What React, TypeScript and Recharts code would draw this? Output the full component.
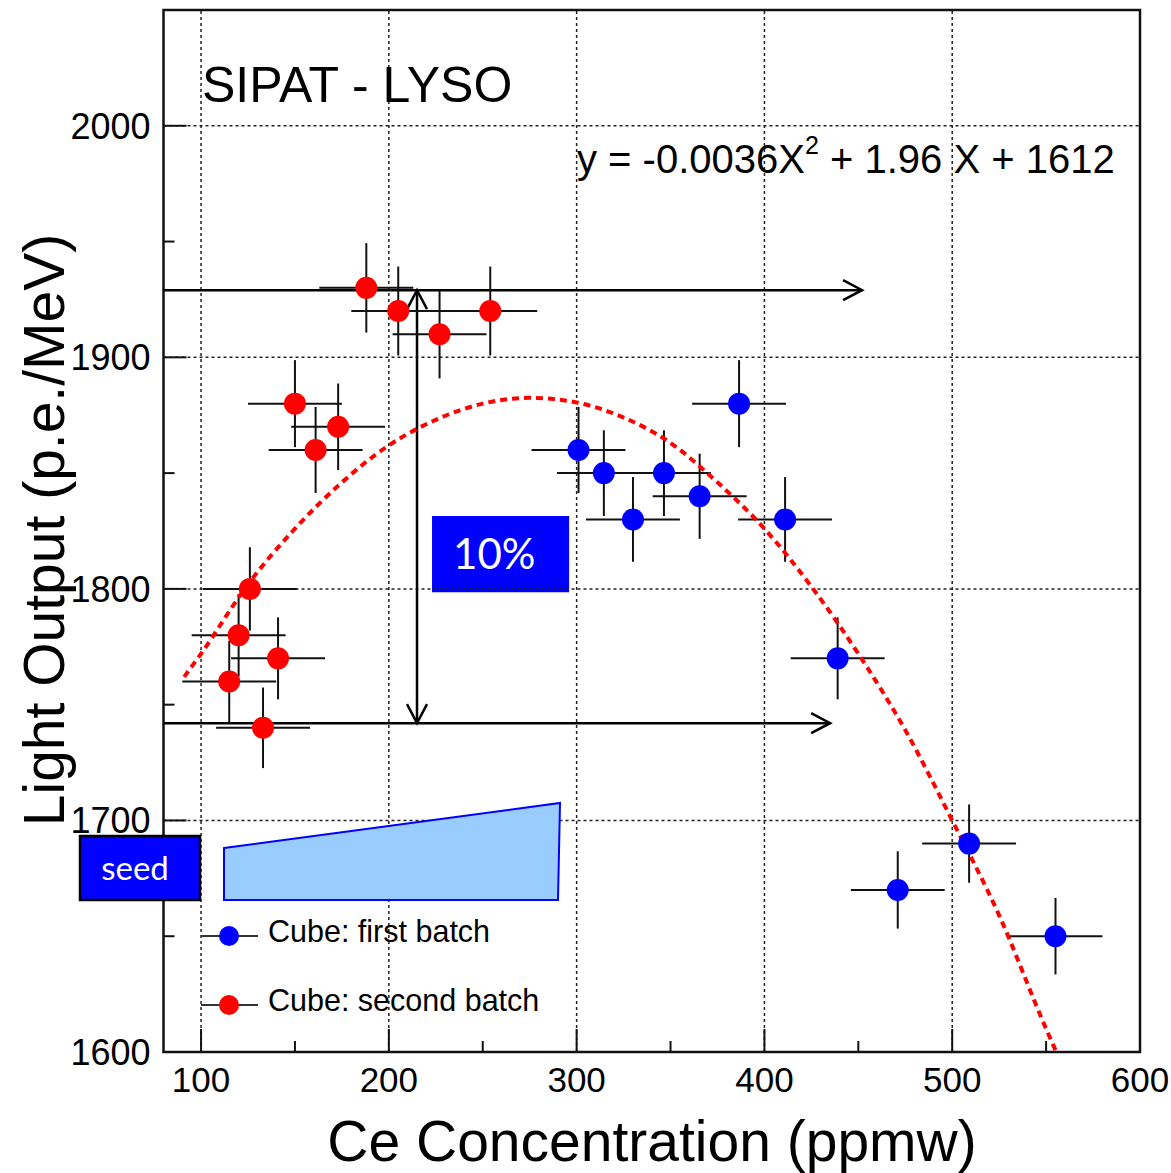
import React from 'react';
import {
  ComposedChart, XAxis, YAxis, Scatter, Line, ErrorBar, ReferenceLine,
  ReferenceArea, Legend,
} from 'recharts';

// ---- data ----
const RED_X = [115, 120, 126, 133, 141, 150, 161, 173, 188, 205, 227, 254];
const RED_Y = [1760, 1780, 1800, 1740, 1770, 1880, 1860, 1870, 1930, 1920, 1910, 1920];
const RED_XERR = [25, 25, 25, 25, 25, 25, 25, 25, 25, 25, 25, 25];
const RED_YERR = [17.6, 17.8, 18, 17.4, 17.7, 18.8, 18.6, 18.7, 19.3, 19.2, 19.1, 19.2];

const BLUE_X = [301, 314.5, 330, 346.5, 365.5, 386.5, 411, 439, 471, 509, 555];
const BLUE_Y = [1860, 1850, 1830, 1850, 1840, 1880, 1830, 1770, 1670, 1690, 1650];
const BLUE_XERR = [25, 25, 25, 25, 25, 25, 25, 25, 25, 25, 25];
const BLUE_YERR = [18.6, 18.5, 18.3, 18.5, 18.4, 18.8, 18.3, 17.7, 16.7, 16.9, 16.5];

// fitted curve, points
const FIT_X = [91, 100, 125, 150, 175, 200, 225, 250, 275, 300, 325, 350, 375, 400, 425, 450, 475, 500, 525, 550, 556, 560];
const FIT_Y = [1762, 1772, 1802, 1826, 1846, 1862, 1873, 1880, 1882.5, 1880.5, 1874, 1863, 1846, 1826, 1801, 1772, 1739, 1700, 1659, 1610, 1599, 1592];

const X_TICKS = [100, 150, 200, 250, 300, 350, 400, 450, 500, 550, 600];
const Y_TICKS = [1600, 1650, 1700, 1750, 1800, 1850, 1900, 1950, 2000];
const X_GRID = [100, 200, 300, 400, 500];
const Y_GRID = [1700, 1800, 1900, 2000];
const X_DOMAIN = [80, 600];
const Y_DOMAIN = [1600, 2050];

// annotation positions in data units
const ARROW_TOP_Y = 1929;
const ARROW_BOTTOM_Y = 1742;
const ARROW_TOP_END = 452;
const ARROW_BOTTOM_END = 435;
const ARROW_V_X = 215;
const BOX10 = { x1: 223, x2: 296, y1: 1798.5, y2: 1831.5 };

const redData = RED_X.map((x, i) => ({ x, y: RED_Y[i], ex: RED_XERR[i], ey: RED_YERR[i] }));
const blueData = BLUE_X.map((x, i) => ({ x, y: BLUE_Y[i], ex: BLUE_XERR[i], ey: BLUE_YERR[i] }));
const fitData = FIT_X.map((x, i) => ({ x, y: FIT_Y[i] }));

const ARIAL = '"Liberation Sans", Arial, sans-serif';
const CAL = 'Lato, "Open Sans", sans-serif';
const MAJOR = 23;
const MINOR = 11;

const BottomTick = (p: any) => {
  const v = p.payload.value;
  const major = v % 100 === 0;
  return (
    <g>
      <line x1={p.x} y1={p.y} x2={p.x} y2={p.y - (major ? MAJOR : MINOR)} stroke="#111" strokeWidth={2} />
      {major && (
        <text x={p.x} y={p.y + 40} textAnchor="middle" fontSize={35} fontFamily={ARIAL} fill="#000">{v}</text>
      )}
    </g>
  );
};
const TopTick = (p: any) => {
  const v = p.payload.value;
  const major = v % 100 === 0;
  return <line x1={p.x} y1={p.y} x2={p.x} y2={p.y + (major ? MAJOR : MINOR)} stroke="#111" strokeWidth={2} />;
};
const LeftTick = (p: any) => {
  const v = p.payload.value;
  const major = v % 100 === 0;
  return (
    <g>
      <line x1={p.x} y1={p.y} x2={p.x + (major ? MAJOR : MINOR)} y2={p.y} stroke="#111" strokeWidth={2} />
      {major && (
        <text x={p.x - 13} y={p.y + 13} textAnchor="end" fontSize={36} fontFamily={ARIAL} fill="#000">{v}</text>
      )}
    </g>
  );
};
const RightTick = (p: any) => {
  const v = p.payload.value;
  const major = v % 100 === 0;
  return <line x1={p.x} y1={p.y} x2={p.x - (major ? MAJOR : MINOR)} y2={p.y} stroke="#111" strokeWidth={2} />;
};

const arrowShape = (start: boolean, end: boolean) => (props: any) => {
  const { x1, y1, x2, y2 } = props;
  const ang = Math.atan2(y2 - y1, x2 - x1);
  const L = 19;
  const W = 10;
  const head = (px: number, py: number, a: number) => {
    const bx = px - L * Math.cos(a);
    const by = py - L * Math.sin(a);
    const nx = -Math.sin(a) * W;
    const ny = Math.cos(a) * W;
    return (
      <polyline points={`${bx + nx},${by + ny} ${px},${py} ${bx - nx},${by - ny}`} fill="none" stroke="#000" strokeWidth={2.5} />
    );
  };
  return (
    <g>
      <line x1={x1} y1={y1} x2={x2} y2={y2} stroke="#000" strokeWidth={2.5} />
      {end && head(x2, y2, ang)}
      {start && head(x1, y1, ang + Math.PI)}
    </g>
  );
};

const dot = (color: string) => (p: any) => <circle cx={p.cx} cy={p.cy} r={11} fill={color} />;

const TenLabel = (p: any) => {
  const vb = p.viewBox || {};
  return (
    <text x={vb.x + 21} y={vb.y + vb.height / 2 + 15} fontSize={42} fontFamily={CAL} fill="#fff">10%</text>
  );
};

const LegendContent = () => (
  <svg width={400} height={120} style={{ overflow: 'visible' }}>
    <line x1={6} y1={24} x2={63} y2={24} stroke="#333" strokeWidth={2} />
    <circle cx={34} cy={24} r={10} fill="#0000ff" />
    <text x={73} y={30} fontSize={30.5} fontFamily={ARIAL} fill="#000">Cube: first batch</text>
    <line x1={6} y1={93} x2={63} y2={93} stroke="#333" strokeWidth={2} />
    <circle cx={34} cy={93} r={10} fill="#ff0000" />
    <text x={73} y={99} fontSize={30.5} fontFamily={ARIAL} fill="#000">Cube: second batch</text>
  </svg>
);

const Overlay = () => (
  <svg width={1171} height={1173} style={{ position: 'absolute', left: 0, top: 0, pointerEvents: 'none' }}>
    <text x={202} y={102} fontSize={50} fontFamily={ARIAL} fill="#000">SIPAT - LYSO</text>
    <text x={577} y={173} fontSize={40} fontFamily={ARIAL} fill="#000">
      y = -0.0036X
      <tspan dy={-19} fontSize={25}>2</tspan>
      <tspan dy={19}> + 1.96 X + 1612</tspan>
    </text>
    <polygon points="224,848 560,803 558,900 224,900" fill="#99ccff" stroke="#0000ff" strokeWidth={2} />
    <rect x={80} y={836} width={120} height={64} fill="#0000ff" stroke="#000" strokeWidth={2.5} />
    <text x={135} y={880} textAnchor="middle" fontSize={33} fontFamily={CAL} fill="#fff">seed</text>
    <text x={652} y={1161} textAnchor="middle" fontSize={57} fontFamily={ARIAL} fill="#000">Ce Concentration (ppmw)</text>
    <text x={64} y={530} transform="rotate(-90, 64, 530)" textAnchor="middle" fontSize={57} fontFamily={ARIAL} fill="#000">
      Light Output (p.e./MeV)
    </text>
  </svg>
);

export default function App() {
  return (
    <div style={{ position: 'absolute', left: 0, top: 0, width: 1171, height: 1173, background: '#fff' }}>
      <ComposedChart width={1171} height={1173} margin={{ top: 10, right: 31, bottom: 0, left: 0 }}>
        <XAxis xAxisId="b" dataKey="x" type="number" domain={X_DOMAIN} ticks={X_TICKS} interval={0}
          height={121} axisLine={false} tickLine={false} tickSize={0} tickMargin={0} tick={<BottomTick />} allowDataOverflow />
        <XAxis xAxisId="t" orientation="top" dataKey="x" type="number" domain={X_DOMAIN} ticks={X_TICKS} interval={0}
          height={0} axisLine={false} tickLine={false} tickSize={0} tickMargin={0} tick={<TopTick />} allowDataOverflow />
        <YAxis yAxisId="l" dataKey="y" type="number" domain={Y_DOMAIN} ticks={Y_TICKS} interval={0}
          width={163.5} axisLine={false} tickLine={false} tickSize={0} tickMargin={0} tick={<LeftTick />} allowDataOverflow />
        <YAxis yAxisId="r" orientation="right" dataKey="y" type="number" domain={Y_DOMAIN} ticks={Y_TICKS} interval={0}
          width={0} axisLine={false} tickLine={false} tickSize={0} tickMargin={0} tick={<RightTick />} allowDataOverflow />

        {X_GRID.map((v) => (
          <ReferenceLine key={'gx' + v} xAxisId="b" yAxisId="l" x={v} stroke="#222" strokeWidth={1.5} strokeDasharray="3 3" />
        ))}
        {Y_GRID.map((v) => (
          <ReferenceLine key={'gy' + v} xAxisId="b" yAxisId="l" y={v} stroke="#222" strokeWidth={1.5} strokeDasharray="3 3" />
        ))}
        <ReferenceArea xAxisId="b" yAxisId="l" x1={X_DOMAIN[0]} x2={X_DOMAIN[1]} y1={Y_DOMAIN[0]} y2={Y_DOMAIN[1]}
          fill="none" fillOpacity={0} stroke="#111" strokeWidth={2.5} />

        <ReferenceLine xAxisId="b" yAxisId="l" segment={[{ x: X_DOMAIN[0], y: ARROW_TOP_Y }, { x: ARROW_TOP_END, y: ARROW_TOP_Y }]}
          shape={arrowShape(false, true)} />
        <ReferenceLine xAxisId="b" yAxisId="l" segment={[{ x: X_DOMAIN[0], y: ARROW_BOTTOM_Y }, { x: ARROW_BOTTOM_END, y: ARROW_BOTTOM_Y }]}
          shape={arrowShape(false, true)} />
        <ReferenceLine xAxisId="b" yAxisId="l" segment={[{ x: ARROW_V_X, y: ARROW_TOP_Y }, { x: ARROW_V_X, y: ARROW_BOTTOM_Y }]}
          shape={arrowShape(true, true)} />

        <Scatter name="Cube: second batch" xAxisId="b" yAxisId="l" data={redData} fill="#ff0000" shape={dot('#ff0000')} isAnimationActive={false}>
          <ErrorBar dataKey="ex" direction="x" width={0} stroke="#111" strokeWidth={2} />
          <ErrorBar dataKey="ey" direction="y" width={0} stroke="#111" strokeWidth={2} />
        </Scatter>
        <Scatter name="Cube: first batch" xAxisId="b" yAxisId="l" data={blueData} fill="#0000ff" shape={dot('#0000ff')} isAnimationActive={false}>
          <ErrorBar dataKey="ex" direction="x" width={0} stroke="#111" strokeWidth={2} />
          <ErrorBar dataKey="ey" direction="y" width={0} stroke="#111" strokeWidth={2} />
        </Scatter>
        <Line xAxisId="b" yAxisId="l" data={fitData} dataKey="y" type="monotone" stroke="#ff0000" strokeWidth={4}
          strokeDasharray="7 5" dot={false} activeDot={false} legendType="none" isAnimationActive={false} />

        <ReferenceArea xAxisId="b" yAxisId="l" x1={BOX10.x1} x2={BOX10.x2} y1={BOX10.y1} y2={BOX10.y2}
          fill="#0000ff" fillOpacity={1} stroke="none" label={<TenLabel />} />

        <Legend layout="vertical" align="center" verticalAlign="middle" content={<LegendContent />}
          wrapperStyle={{ position: 'absolute', left: 195, top: 912, width: 400, height: 120 }} />
      </ComposedChart>
      <Overlay />
    </div>
  );
}
